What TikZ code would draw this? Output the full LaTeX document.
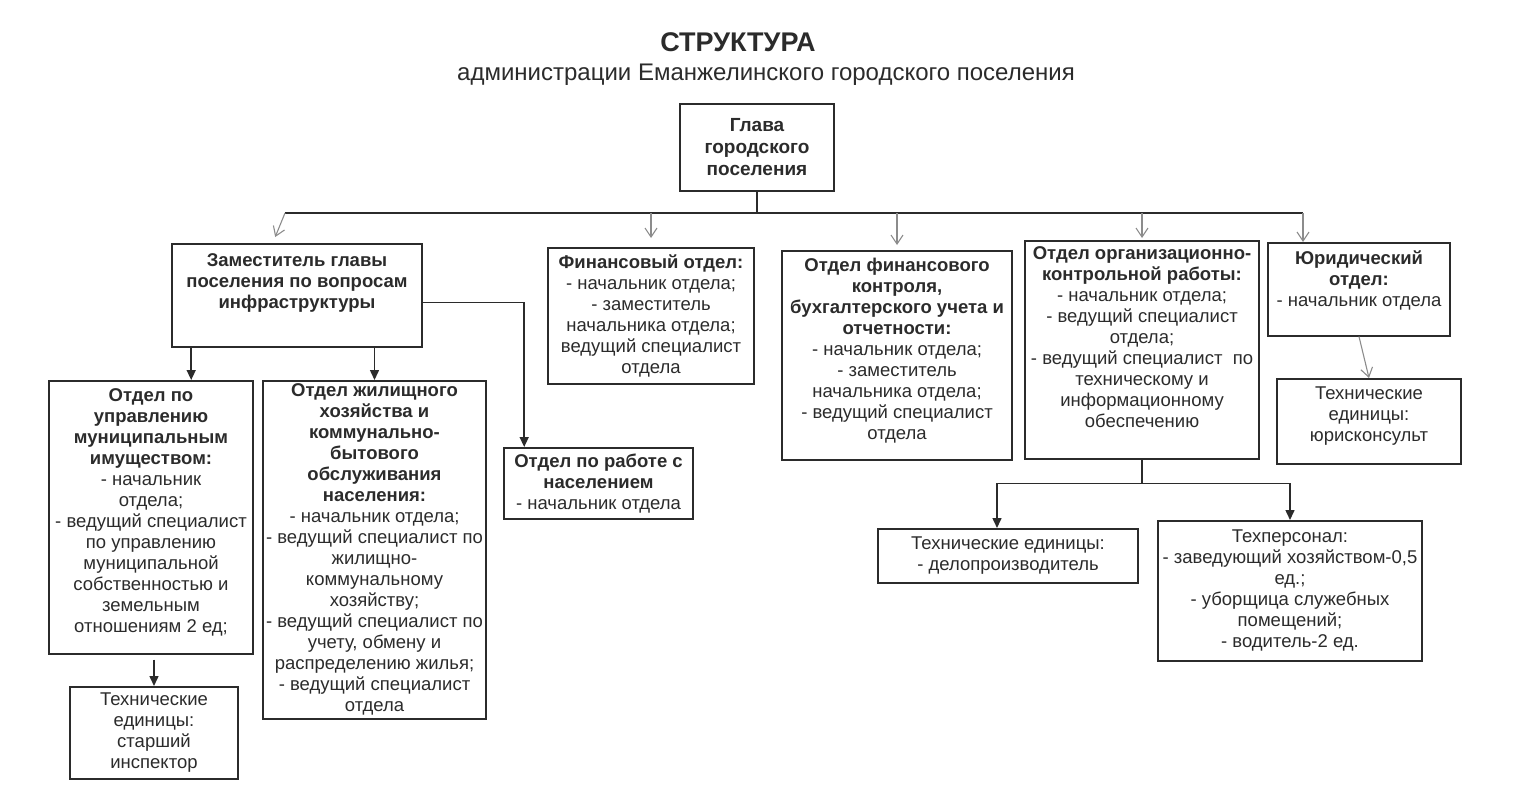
\documentclass[tikz,border=0pt]{standalone}
\usepackage{fontspec}
\setmainfont{Liberation Sans}
\usetikzlibrary{arrows.meta}
\definecolor{ink}{HTML}{2B2B2B}
\definecolor{pale}{HTML}{8C8C8C}
\tikzset{
  box/.style={draw=ink, line width=1.6pt, anchor=north, align=center, inner sep=0pt, text=ink, font=\fontsize{18.5}{21}\selectfont},
  link/.style={draw=ink, line width=1.5pt},
  darrow/.style={link, -{Triangle[length=10pt,width=9pt]}},
  garrow/.style={draw=pale, line width=1.1pt, -{Straight Barb[length=9pt,width=12pt]}},
}
\newcommand\lowpad[1]{\rule[-#1pt]{0pt}{0pt}}

\begin{document}
\begin{tikzpicture}[x=1pt,y=-1pt]
  \useasboundingbox (0,0) rectangle (1521,809);
  %заголовок
  \node[text=ink, font=\fontsize{27}{30}\selectfont\bfseries] (title) at (738,42) {СТРУКТУРА};
  \node[text=ink, font=\fontsize{24}{28}\selectfont] (subtitle) at (766,75) {администрации Еманжелинского городского поселения};
  %глава
  \node[box, minimum width=154pt, minimum height=87pt, font=\fontsize{19}{22}\selectfont\bfseries] (glava) at (757,103) {Глава\\городского\\поселения};
  %первый уровень
  \node[box, minimum width=250pt, minimum height=103pt] (zam) at (297,243) {\textbf{Заместитель главы}\\\textbf{поселения по вопросам}\\\textbf{инфраструктуры}\lowpad{29}};
  \node[box, minimum width=206pt, minimum height=136pt] (fin) at (651,247) {\textbf{Финансовый отдел:}\\- начальник отдела;\\- заместитель\\начальника отдела;\\ведущий специалист\\отдела};
  \node[box, minimum width=230pt, minimum height=209pt] (kontr) at (897,250) {\textbf{Отдел финансового}\\\textbf{контроля,}\\\textbf{бухгалтерского учета и}\\\textbf{отчетности:}\\- начальник отдела;\\- заместитель\\начальника отдела;\\- ведущий специалист\\отдела\lowpad{13}};
  \node[box, minimum width=234pt, minimum height=218pt] (org) at (1142,240) {\textbf{Отдел организационно-}\\\textbf{контрольной работы:}\\- начальник отдела;\\- ведущий специалист\\отдела;\\- ведущий специалист\ \ по\\техническому и\\информационному\\обеспечению\lowpad{25}};
  \node[box, minimum width=182pt, minimum height=93pt] (yur) at (1359,242) {\textbf{Юридический}\\\textbf{отдел:}\\- начальник отдела\lowpad{21}};
  %второй уровень
  \node[box, minimum width=204pt, minimum height=273pt] (imush) at (151,380) {\textbf{Отдел по}\\\textbf{управлению}\\\textbf{муниципальным}\\\textbf{имуществом:}\\- начальник\\отдела;\\- ведущий специалист\\по управлению\\муниципальной\\собственностью и\\земельным\\отношениям 2 ед;\lowpad{14}};
  \node[box, minimum width=223pt, minimum height=338pt] (zhkh) at (374.5,380) {\textbf{Отдел жилищного}\\\textbf{хозяйства и}\\\textbf{коммунально-}\\\textbf{бытового}\\\textbf{обслуживания}\\\textbf{населения:}\\- начальник отдела;\\- ведущий специалист по\\жилищно-\\коммунальному\\хозяйству;\\- ведущий специалист по\\учету, обмену и\\распределению жилья;\\- ведущий специалист\\отдела};
  \node[box, minimum width=168pt, minimum height=92pt] (imtech) at (154,686) {Технические\\единицы:\\старший\\инспектор};
  \node[box, minimum width=189pt, minimum height=71pt] (nasel) at (598.5,447) {\textbf{Отдел по работе с}\\\textbf{населением}\\- начальник отдела};
  \node[box, minimum width=184pt, minimum height=85pt] (yurtech) at (1369,378) {Технические\\единицы:\\юрисконсульт\lowpad{15}};
  \node[box, minimum width=260pt, minimum height=54pt] (delo) at (1008,528) {Технические единицы:\\- делопроизводитель};
  \node[box, minimum width=264pt, minimum height=140pt] (tehpers) at (1290,520) {Техперсонал:\\- заведующий хозяйством-0,5\\ед.;\\- уборщица служебных\\помещений;\\- водитель-2 ед.};
  %шина от главы
  \coordinate (busl) at (285,213);
  \coordinate (busr) at (1303,213);
  \draw[link] (glava.south) -- (glava.south |- busl);
  \draw[link] (busl) -- (busr);
  \draw[garrow] (busl) -- ([xshift=104pt,yshift=6pt]zam.north west);
  \draw[garrow] (fin.north |- busl) -- ([yshift=9pt]fin.north);
  \draw[garrow] (kontr.north |- busl) -- ([yshift=5pt]kontr.north);
  \draw[garrow] (org.north |- busl) -- ([yshift=2pt]org.north);
  \draw[garrow] (busr) -- (busr |- yur.north);
  %заместитель
  \coordinate (zl) at ([xshift=20pt]zam.south west);
  \draw[darrow] (zl) -- (zl |- imush.north);
  \draw[darrow] (zhkh.north |- zam.south) -- (zhkh.north);
  \draw[darrow] ([yshift=-7pt]zam.east) -| ([xshift=21pt]nasel.north west);
  \draw[darrow, shorten <=5pt] (imtech.north |- imush.south) -- (imtech.north);
  %орг.-контрольный отдел
  \coordinate (orgj) at ([yshift=-24pt]org.south);
  \draw[link] (org.south) -- (orgj);
  \draw[darrow] (orgj) -| ([xshift=-11pt]delo.north);
  \draw[darrow] (orgj) -| (tehpers.north);
  %юридический
  \draw[garrow] (yur.south) -- (yurtech.north);
\end{tikzpicture}
\end{document}
